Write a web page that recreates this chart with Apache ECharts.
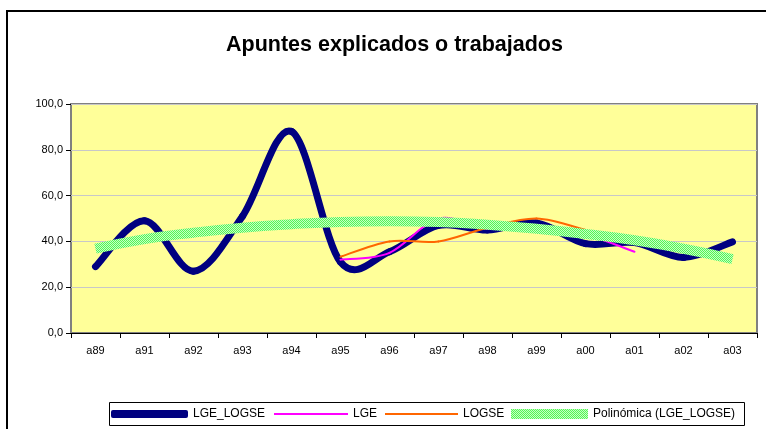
<!DOCTYPE html>
<html>
<head>
<meta charset="utf-8">
<title>Apuntes explicados o trabajados</title>
<script src="https://cdn.jsdelivr.net/npm/echarts@6/dist/echarts.min.js"></script>
<style>
  html, body { margin: 0; padding: 0; background: #fff; }
  #chart { width: 766px; height: 429px; }
</style>
</head>
<body>
<div id="chart"></div>
<script>
var years = ['a89', 'a91', 'a92', 'a93', 'a94', 'a95', 'a96', 'a97', 'a98', 'a99', 'a00', 'a01', 'a02', 'a03']
var lgeLogse = [29, 49, 27, 51, 88, 31, 35.5, 47, 45, 48, 39, 39.5, 33, 39.8]
var lge = [null, null, null, null, null, 32, 35, 50, 45.5, 47, 43, 35.5, null, null]
var logse = [null, null, null, null, null, 33.3, 40, 40, 46, 50, 45, null, null, null]
var trend = [36.8, 41, 43.8, 46, 47.5, 48.5, 48.8, 48.5, 47.3, 45.5, 43.2, 40.5, 36.8, 32.3]
var yTicks = [0, 20, 40, 60, 80, 100]

// dithered green, like the excel trend line
var tex = document.createElement('canvas')
tex.width = 2
tex.height = 2
var ctx = tex.getContext('2d')
ctx.fillStyle = '#c4ffc4'
ctx.fillRect(0, 0, 2, 2)
ctx.fillStyle = '#55f555'
ctx.fillRect(0, 0, 1, 1)
ctx.fillRect(1, 1, 1, 1)
var green = { image: tex, repeat: 'repeat' }

// excel style smoothing (catmull-rom), echarts clamps its own curves
function smoothLine(values, color, width) {
  return function(params, api) {
    var i = params.dataIndex
    if (i >= values.length - 1 || values[i] == null || values[i + 1] == null) return
    var pt = function(k) { return api.coord([k, values[k]]) }
    var p1 = pt(i)
    var p2 = pt(i + 1)
    var p0 = i > 0 && values[i - 1] != null ? pt(i - 1) : p1
    var p3 = i + 2 < values.length && values[i + 2] != null ? pt(i + 2) : p2
    return {
      type: 'bezierCurve',
      shape: {
        x1: p1[0], y1: p1[1],
        x2: p2[0], y2: p2[1],
        cpx1: p1[0] + (p2[0] - p0[0]) / 6,
        cpy1: p1[1] + (p2[1] - p0[1]) / 6,
        cpx2: p2[0] - (p3[0] - p1[0]) / 6,
        cpy2: p2[1] - (p3[1] - p1[1]) / 6
      },
      style: { fill: null, stroke: color, lineWidth: width, lineCap: 'round' }
    }
  }
}

function pairs(values) {
  return values.map(function(v, i) { return [i, v] })
}

// one legend per entry so each key can have its own size
function legendItem(name, left, width, height, icon) {
  return {
    data: [name],
    left: left,
    top: 407,
    padding: 0,
    icon: icon,
    itemWidth: width,
    itemHeight: height,
    textStyle: { fontSize: 12, color: '#000', height: 14, lineHeight: 14 }
  }
}

var chart = echarts.init(document.getElementById('chart'))
chart.setOption({
  animation: false,
  textStyle: { fontFamily: 'Liberation Sans, Arial, sans-serif' },
  title: {
    text: 'Apuntes explicados o trabajados',
    left: 221,
    top: 29,
    textStyle: { fontSize: 21.5, fontWeight: 'bold', color: '#000' }
  },
  graphic: [
    {
      type: 'rect',
      shape: { x: 7, y: 11, width: 820, height: 500 },
      style: { fill: null, stroke: '#000', lineWidth: 2 },
      silent: true
    },
    {
      type: 'rect',
      shape: { x: 109.5, y: 402.5, width: 635, height: 23 },
      style: { fill: '#fff', stroke: '#000', lineWidth: 1 },
      silent: true,
      z: -1
    }
  ],
  legend: [
    legendItem('LGE_LOGSE', 111, 77, 8, 'roundRect'),
    legendItem('LGE', 274, 74, 2, 'rect'),
    legendItem('LOGSE', 385, 73, 2, 'rect'),
    legendItem('Polinómica (LGE_LOGSE)', 511, 77, 10, 'rect')
  ],
  grid: {
    left: 71,
    top: 104,
    right: 9,
    bottom: 96,
    show: true,
    backgroundColor: '#ffff99',
    borderColor: '#808080',
    borderWidth: 2
  },
  xAxis: {
    type: 'category',
    data: years,
    boundaryGap: true,
    axisLine: { lineStyle: { color: '#000', width: 1 } },
    axisTick: { show: true, length: 5, lineStyle: { color: '#000' } },
    axisLabel: { fontSize: 11, color: '#000', margin: 12 }
  },
  yAxis: {
    type: 'value',
    min: yTicks[0],
    max: yTicks[yTicks.length - 1],
    interval: 20,
    axisLine: { show: false },
    axisTick: { show: true, length: 5, lineStyle: { color: '#000' } },
    splitLine: { lineStyle: { color: '#c8c8c8', width: 1 } },
    axisLabel: {
      fontSize: 11,
      color: '#000',
      margin: 8,
      formatter: function(v) { return v.toFixed(1).replace('.', ',') }
    }
  },
  series: [
    {
      name: 'LGE_LOGSE',
      type: 'custom',
      data: pairs(lgeLogse),
      encode: { x: 0, y: 1 },
      renderItem: smoothLine(lgeLogse, '#000080', 7),
      itemStyle: { color: '#000080' },
      z: 2
    },
    {
      name: 'LGE',
      type: 'custom',
      data: pairs(lge),
      encode: { x: 0, y: 1 },
      renderItem: smoothLine(lge, '#ff00ff', 2),
      itemStyle: { color: '#ff00ff' },
      z: 3
    },
    {
      name: 'LOGSE',
      type: 'custom',
      data: pairs(logse),
      encode: { x: 0, y: 1 },
      renderItem: smoothLine(logse, '#ff6600', 2),
      itemStyle: { color: '#ff6600' },
      z: 4
    },
    {
      name: 'Polinómica (LGE_LOGSE)',
      type: 'line',
      data: trend,
      smooth: true,
      symbol: 'none',
      lineStyle: { color: green, width: 10 },
      itemStyle: { color: green },
      z: 5
    }
  ]
})
</script>
</body>
</html>
